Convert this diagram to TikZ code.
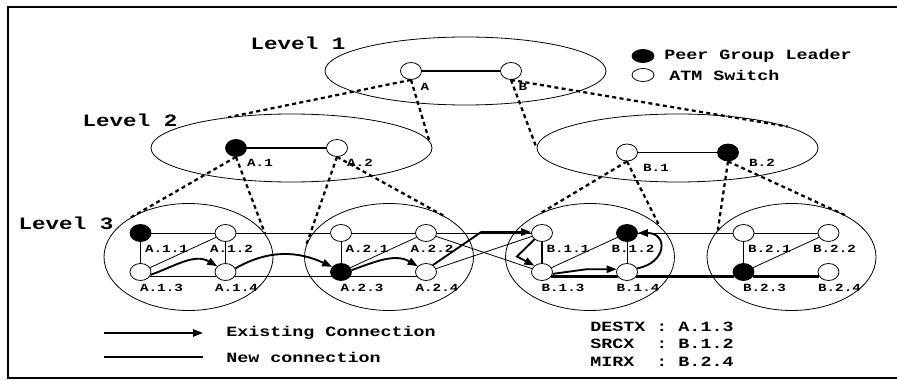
\documentclass[tikz,border=0pt]{standalone}
\usepackage{fontspec}
\newfontfamily\figfont[FakeStretch=1.3]{Liberation Mono}
\usetikzlibrary{calc}
\usetikzlibrary{positioning}
\usetikzlibrary{shapes.geometric}
\usetikzlibrary{arrows.meta}
\tikzstyle{switchnode} = [draw, ellipse, fill=white, line width=0.6pt, minimum width=15.75pt, minimum height=12.75pt, inner sep=0pt]
\tikzstyle{leader} = [fill=black]
\tikzstyle{groupnode} = [draw, ellipse, inner sep=0pt, line width=0.6pt]
\tikzstyle{toplevel} = [groupnode, minimum width=210.75pt, minimum height=51pt]
\tikzstyle{cluster} = [groupnode, minimum width=126.75pt, minimum height=80.25pt]
\tikzstyle{lvltext} = [font=\figfont\bfseries\fontsize{13}{15}\selectfont, inner sep=0pt]
\tikzstyle{idtext} = [font=\figfont\bfseries\fontsize{8.2}{10}\selectfont, inner sep=0pt]
\tikzstyle{legtext} = [font=\figfont\bfseries\fontsize{10.6}{13}\selectfont, inner sep=0pt]
\tikzstyle{uplink} = [line width=1.7pt, dash pattern=on 3pt off 2.5pt]
\tikzstyle{link} = [line width=0.6pt]
\tikzstyle{peerlink} = [line width=1.1pt]
\tikzstyle{oldconn} = [line width=1.4pt, -{Triangle[length=7.5pt,width=5.5pt]}]
\tikzstyle{newconn} = [line width=2.2pt]

\begin{document}
\begin{tikzpicture}[x=0.75pt, y=-0.75pt]
    \useasboundingbox (0,0) rectangle (897,381);
    \draw[line width=1.8pt] (897,7) -- (8,7) -- (8,378) -- (897,378);

    \node[toplevel] (lvl1) at (465.5,71) {};
    \node[toplevel] (lvl2_a) at (291.5,148) {};
    \node[toplevel] (lvl2_b) at (677.5,148) {};
    \node[cluster] (grp_a1) at (188.5,257) {};
    \node[cluster] (grp_a2) at ($(grp_a1)+(200.5,0)$) {};
    \node[cluster] (grp_b1) at ($(grp_a2)+(201,0)$) {};
    \node[cluster] (grp_b2) at ($(grp_b1)+(201.5,0)$) {};

    \node[lvltext] (lvl1_txt) at (298,43) {Level 1};
    \node[lvltext] (lvl2_txt) at (130,120) {Level 2};
    \node[lvltext] (lvl3_txt) at (66,223) {Level 3};

    \node[switchnode] (sw_a) at ($(lvl1)+(-54.5,0)$) {};
    \node[switchnode] (sw_b) at ($(lvl1)+(45.5,0)$) {};
    \node[switchnode, leader] (sw_a1) at ($(lvl2_a)+(-55.5,0)$) {};
    \node[switchnode] (sw_a2) at ($(lvl2_a)+(45.5,0)$) {};
    \node[switchnode] (sw_b1) at ($(lvl2_b)+(-50.5,4.5)$) {};
    \node[switchnode, leader] (sw_b2) at ($(lvl2_b)+(50.5,4.5)$) {};

    \node[switchnode, leader] (sw_a11) at ($(grp_a1)+(-48,-24)$) {};
    \node[switchnode] (sw_a12) at ($(grp_a1)+(37,-24)$) {};
    \node[switchnode] (sw_a13) at ($(grp_a1)+(-48,15)$) {};
    \node[switchnode] (sw_a14) at ($(grp_a1)+(37,15)$) {};
    \node[switchnode] (sw_a21) at ($(grp_a2)+(-48,-24)$) {};
    \node[switchnode] (sw_a22) at ($(grp_a2)+(37,-24)$) {};
    \node[switchnode, leader] (sw_a23) at ($(grp_a2)+(-48,15)$) {};
    \node[switchnode] (sw_a24) at ($(grp_a2)+(37,15)$) {};
    \node[switchnode] (sw_b11) at ($(grp_b1)+(-48,-24)$) {};
    \node[switchnode, leader] (sw_b12) at ($(grp_b1)+(37,-24)$) {};
    \node[switchnode] (sw_b13) at ($(grp_b1)+(-48,15)$) {};
    \node[switchnode] (sw_b14) at ($(grp_b1)+(37,15)$) {};
    \node[switchnode] (sw_b21) at ($(grp_b2)+(-48,-24)$) {};
    \node[switchnode] (sw_b22) at ($(grp_b2)+(37,-24)$) {};
    \node[switchnode, leader] (sw_b23) at ($(grp_b2)+(-48,15)$) {};
    \node[switchnode] (sw_b24) at ($(grp_b2)+(37,15)$) {};

    \node[idtext] (lb_a) at ($(sw_a)+(14,16)$) {A};
    \node[idtext] (lb_b) at ($(sw_b)+(12,16)$) {B};
    \node[idtext] (lb_a1) at ($(sw_a1)+(24,15)$) {A.1};
    \node[idtext] (lb_a2) at ($(sw_a2)+(23,15)$) {A.2};
    \node[idtext] (lb_b1) at ($(sw_b1)+(29,15)$) {B.1};
    \node[idtext] (lb_b2) at ($(sw_b2)+(34,10)$) {B.2};
    \node[idtext] (lb_a11) at ($(sw_a11)+(26,16)$) {A.1.1};
    \node[idtext] (lb_a12) at ($(sw_a12)+(6,16)$) {A.1.2};
    \node[idtext] (lb_a13) at ($(sw_a13)+(21,16)$) {A.1.3};
    \node[idtext] (lb_a14) at ($(sw_a14)+(11,16)$) {A.1.4};
    \node[idtext] (lb_a21) at ($(sw_a21)+(26,16)$) {A.2.1};
    \node[idtext] (lb_a22) at ($(sw_a22)+(6,16)$) {A.2.2};
    \node[idtext] (lb_a23) at ($(sw_a23)+(21,16)$) {A.2.3};
    \node[idtext] (lb_a24) at ($(sw_a24)+(11,16)$) {A.2.4};
    \node[idtext] (lb_b11) at ($(sw_b11)+(26,16)$) {B.1.1};
    \node[idtext] (lb_b12) at ($(sw_b12)+(6,16)$) {B.1.2};
    \node[idtext] (lb_b13) at ($(sw_b13)+(21,16)$) {B.1.3};
    \node[idtext] (lb_b14) at ($(sw_b14)+(11,16)$) {B.1.4};
    \node[idtext] (lb_b21) at ($(sw_b21)+(26,16)$) {B.2.1};
    \node[idtext] (lb_b22) at ($(sw_b22)+(6,16)$) {B.2.2};
    \node[idtext] (lb_b23) at ($(sw_b23)+(21,16)$) {B.2.3};
    \node[idtext] (lb_b24) at ($(sw_b24)+(11,16)$) {B.2.4};

    \draw[uplink] (sw_a.south) -- (lvl2_a.154);
    \draw[uplink] (sw_a.south) -- (lvl2_a.3);
    \draw[uplink] (sw_b.south) -- (lvl2_b.180);
    \draw[uplink] (sw_b.south) -- (lvl2_b.11);
    \draw[uplink] (sw_a1.south) -- (grp_a1.146);
    \draw[uplink] (sw_a1.south) -- (grp_a1.17);
    \draw[uplink] (sw_a2.south) -- (grp_a2.172);
    \draw[uplink] (sw_a2.south) -- (grp_a2.36);
    \draw[uplink] (sw_b1.south) -- (grp_b1.139);
    \draw[uplink] (sw_b1.south) -- (grp_b1.24);
    \draw[uplink] (sw_b2.south) -- (grp_b2.160);
    \draw[uplink] (sw_b2.south) -- (grp_b2.38);

    \draw[peerlink] (sw_a) -- (sw_b);
    \draw[peerlink] (sw_a1) -- (sw_a2);
    \draw[peerlink] (sw_b1) -- (sw_b2);

    \draw[link] (sw_a11) -- (sw_a12);
    \draw[link] (sw_a12) -- (sw_a21);
    \draw[link] (sw_a21) -- (sw_a22);
    \draw[link] (sw_a22) -- (sw_b11);
    \draw[link] (sw_b12) -- (sw_b21);
    \draw[link] (sw_b21) -- (sw_b22);
    \draw[link] (sw_a13.-25) -- (sw_a14.205);
    \draw[link] (sw_a14.-25) -- (sw_a23.205);
    \draw[link] (sw_a23.-25) -- (sw_a24.205);
    \draw[link] (sw_a11) -- (sw_a13);
    \draw[link] (sw_a12) -- (sw_a14);
    \draw[link] (sw_a21) -- (sw_a23);
    \draw[link] (sw_b12) -- (sw_b14);
    \draw[link] (sw_b21) -- (sw_b23);
    \draw[link] (sw_a13) -- (sw_a12);
    \draw[link] (sw_a23) -- (sw_a22);
    \draw[link] (sw_b13) -- (sw_b12);
    \draw[link] (sw_b23) -- (sw_b22);
    \draw[link] (sw_a22) -- (sw_b13);
    \draw[link] (sw_a24) -- (sw_b11);

    \draw[newconn] (sw_b11) -- (sw_b13);
    \draw[newconn] (sw_b13.-25) -- (sw_b14.205);
    \draw[newconn] (sw_b14.-25) -- (sw_b23.205);
    \draw[newconn] (sw_b23.-25) -- (sw_b24.205);

    \draw[oldconn] (sw_a13.-15) to[out=20,in=150] (sw_a14.145);
    \draw[oldconn] (sw_a14.20) to[out=30,in=155] (sw_a23.150);
    \draw[oldconn] (sw_a23.10) to[out=20,in=150] (sw_a24.145);
    \draw[oldconn] (sw_a24.45) -- ($(sw_b11.175)+(-50,0)$) -- (sw_b11.175);
    \draw[oldconn] (sw_b11.220) -- ($(sw_b11)!0.5!(sw_b13)+(-25,4)$) -- (sw_b13.140);
    \draw[oldconn] (sw_b13.-10) -- ($(sw_b14.165)+(-30,0)$) -- (sw_b14.165);
    \draw[oldconn] (sw_b14.20) to[out=10,in=0,looseness=2.2] (sw_b12.east);

    \node[switchnode, leader, minimum width=16.5pt, minimum height=9.75pt] (key_leader) at (643,56) {};
    \node[switchnode, minimum width=16.5pt, minimum height=9.75pt] (key_switch) at (643,75) {};
    \node[legtext, anchor=west] (key_leader_txt) at (664,56) {Peer Group Leader};
    \node[legtext, anchor=west] (key_switch_txt) at (669,75) {ATM Switch};

    \coordinate (key_old_s) at (104,333);
    \coordinate (key_old_e) at (203,333);
    \coordinate (key_new_s) at (104,357);
    \coordinate (key_new_e) at (203,357);
    \draw[oldconn] (key_old_s) -- (key_old_e);
    \draw[newconn, line width=1.5pt] (key_new_s) -- (key_new_e);
    \node[legtext, anchor=west] (key_old_txt) at (226,333) {Existing Connection};
    \node[legtext, anchor=west] (key_new_txt) at (226,357) {New connection};

    \node[legtext, anchor=west] (dest_txt) at (590,327) {DESTX~:~A.1.3};
    \node[legtext, anchor=west] (src_txt) at (590,344) {SRCX~~:~B.1.2};
    \node[legtext, anchor=west] (mir_txt) at (590,362) {MIRX~~:~B.2.4};
\end{tikzpicture}
\end{document}
